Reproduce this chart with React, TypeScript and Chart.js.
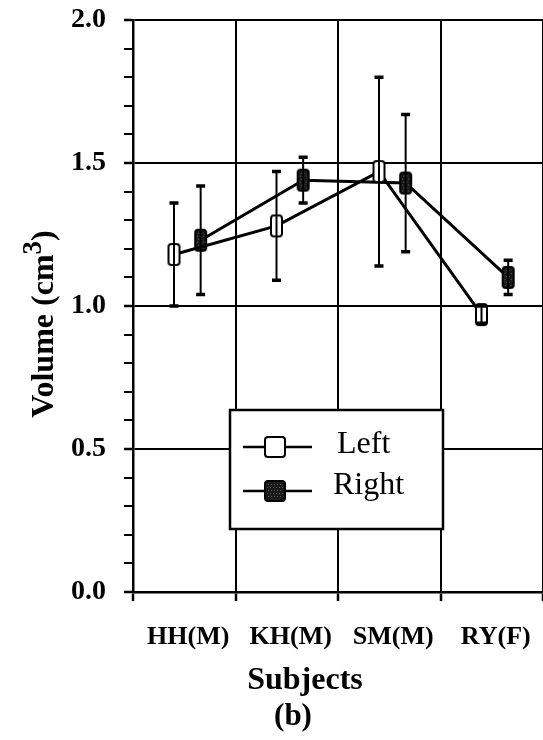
import { useEffect, useRef } from "react";
import { Chart, registerables } from "chart.js";

Chart.register(...registerables);

// Mean volume per subject with its error half-width
const subjects = ["HH(M)", "KH(M)", "SM(M)", "RY(F)"];
const leftMean = [1.18, 1.28, 1.47, 0.97];
const leftErr = [0.18, 0.19, 0.33, 0.03];
const rightMean = [1.23, 1.44, 1.43, 1.1];
const rightErr = [0.19, 0.08, 0.24, 0.06];
const seriesNames = ["Left", "Right"];

const SERIF = '"Liberation Serif", "Times New Roman", Times, serif';
const LEFT_DODGE = 0.4;
const RIGHT_DODGE = 0.66;

const isMajorY = (v: number) => Math.abs(v * 2 - Math.round(v * 2)) < 1e-6;
const isInt = (v: number) => Math.abs(v - Math.round(v)) < 1e-6;
const isHalf = (v: number) => Math.abs(v - Math.floor(v) - 0.5) < 1e-6;

function markerImage(w: number, h: number, fill: string, dotted: boolean) {
  const c = document.createElement("canvas");
  c.width = w + 4;
  c.height = h + 4;
  const g = c.getContext("2d")!;
  g.lineWidth = 2;
  g.beginPath();
  g.roundRect(2, 2, w, h, 3);
  g.fillStyle = fill;
  g.fill();
  if (dotted) {
    g.fillStyle = "#5a5a5a";
    for (let yy = 5; yy < h; yy += 3) {
      for (let xx = 4 + (yy % 2); xx < w; xx += 3) g.fillRect(xx, yy, 1, 1);
    }
  }
  g.strokeStyle = "#000";
  g.stroke();
  return c;
}

const errorBars = {
  id: "errorBars",
  afterDatasetsDraw(chart: any) {
    const { ctx, scales } = chart;
    const xs = scales.x;
    const ys = scales.y;
    ctx.save();
    ctx.strokeStyle = "#000";
    chart.data.datasets.forEach((ds: any) => {
      ds.data.forEach((p: any) => {
        const px = xs.getPixelForValue(p.x);
        const top = ys.getPixelForValue(p.y + p.err);
        const bot = ys.getPixelForValue(p.y - p.err);
        ctx.lineWidth = 2;
        ctx.beginPath();
        ctx.moveTo(px, top);
        ctx.lineTo(px, bot);
        ctx.stroke();
        ctx.lineWidth = 3.5;
        ctx.beginPath();
        ctx.moveTo(px - 4.5, top);
        ctx.lineTo(px + 4.5, top);
        ctx.moveTo(px - 4.5, bot);
        ctx.lineTo(px + 4.5, bot);
        ctx.stroke();
      });
    });
    ctx.restore();
  },
};

const decorations = {
  id: "decorations",
  afterDraw(chart: any) {
    const { ctx, chartArea } = chart;
    const L = chartArea.left;
    const T = chartArea.top;
    ctx.save();

    // y-axis title with superscript
    ctx.translate(53, 324);
    ctx.rotate(-Math.PI / 2);
    ctx.fillStyle = "#000";
    ctx.textBaseline = "alphabetic";
    ctx.textAlign = "left";
    const mainFont = `bold 32px ${SERIF}`;
    const supFont = `bold 27px ${SERIF}`;
    ctx.font = mainFont;
    const a = "Volume (cm";
    const c = ")";
    const wa = ctx.measureText(a).width;
    const wc = ctx.measureText(c).width;
    ctx.font = supFont;
    const wb = ctx.measureText("3").width;
    const x0 = -(wa + wb + wc) / 2;
    ctx.font = mainFont;
    ctx.fillText(a, x0, 0);
    ctx.font = supFont;
    ctx.fillText("3", x0 + wa, -12);
    ctx.font = mainFont;
    ctx.fillText(c, x0 + wa + wb, 0);
    ctx.setTransform(1, 0, 0, 1, 0, 0);

    // x-axis title and panel tag
    ctx.textAlign = "center";
    ctx.textBaseline = "alphabetic";
    ctx.font = `bold 32px ${SERIF}`;
    ctx.fillText("Subjects", 305, 689);
    ctx.font = `bold 31px ${SERIF}`;
    ctx.fillText("(b)", 293, 725);

    // legend box
    const bx = L + 97;
    const by = T + 390;
    const bw = 213;
    const bh = 119;
    ctx.fillStyle = "#fff";
    ctx.fillRect(bx, by, bw, bh);
    ctx.strokeStyle = "#000";
    ctx.lineWidth = 2.5;
    ctx.strokeRect(bx, by, bw, bh);

    const rows = [
      { y: by + 37, img: markerImage(20, 20, "#fff", false) },
      { y: by + 81, img: markerImage(20, 20, "#1a1a1a", true) },
    ];
    rows.forEach((r, i) => {
      ctx.lineWidth = 2.5;
      ctx.beginPath();
      ctx.moveTo(bx + 13, r.y);
      ctx.lineTo(bx + 82, r.y);
      ctx.stroke();
      ctx.drawImage(r.img, bx + 45 - r.img.width / 2, r.y - r.img.height / 2);
      ctx.fillStyle = "#000";
      ctx.textAlign = "left";
      ctx.textBaseline = "alphabetic";
      ctx.font = `32px ${SERIF}`;
      ctx.fillText(seriesNames[i], bx + (i === 0 ? 107 : 103), r.y + (i === 0 ? 6 : 3));
    });
    ctx.restore();
  },
};

export default function App() {
  const ref = useRef<HTMLCanvasElement | null>(null);

  useEffect(() => {
    if (!ref.current) return;
    const leftPts = subjects.map((_, i) => ({ x: i + LEFT_DODGE, y: leftMean[i], err: leftErr[i] }));
    const rightPts = subjects.map((_, i) => ({ x: i + RIGHT_DODGE, y: rightMean[i], err: rightErr[i] }));

    const chart = new Chart(ref.current, {
      type: "line",
      data: {
        datasets: [
          {
            label: seriesNames[0],
            data: leftPts,
            borderColor: "#000",
            borderWidth: 3,
            pointStyle: markerImage(11, 21, "#fff", false) as any,
          },
          {
            label: seriesNames[1],
            data: rightPts,
            borderColor: "#000",
            borderWidth: 3,
            pointStyle: markerImage(11, 21, "#1a1a1a", true) as any,
          },
        ],
      },
      options: {
        animation: false,
        responsive: true,
        maintainAspectRatio: false,
        layout: { autoPadding: false, padding: { top: 20, right: 0, bottom: 0, left: 0 } },
        plugins: { legend: { display: false }, tooltip: { enabled: false } },
        scales: {
          x: {
            type: "linear",
            min: 0,
            max: 4,
            afterFit(s: any) {
              s.height = 148;
              s.paddingLeft = 0;
              s.paddingRight = 0;
            },
            border: { color: "#000", width: 2.5 },
            grid: {
              color: (c: any) => (isInt(c.tick.value) ? "#000" : "rgba(0,0,0,0)"),
              tickColor: (c: any) => (isInt(c.tick.value) ? "#000" : "rgba(0,0,0,0)"),
              lineWidth: 2,
              tickWidth: 2.5,
              tickLength: 9,
            },
            ticks: {
              stepSize: 0.5,
              autoSkip: false,
              maxRotation: 0,
              padding: 21,
              labelOffset: 4,
              color: "#000",
              font: { family: SERIF, size: 26, weight: "bold" },
              callback: (v: any) => (isHalf(Number(v)) ? subjects[Math.floor(Number(v))] : ""),
            },
          },
          y: {
            min: 0,
            max: 2,
            afterFit(s: any) {
              s.width = 133;
              s.paddingTop = 0;
              s.paddingBottom = 0;
            },
            border: { color: "#000", width: 2.5 },
            grid: {
              color: (c: any) => (isMajorY(c.tick.value) ? "#000" : "rgba(0,0,0,0)"),
              tickColor: "#000",
              lineWidth: 2,
              tickWidth: (c: any) => (isMajorY(c.tick.value) ? 2.5 : 2),
              tickLength: 9,
            },
            ticks: {
              stepSize: 0.1,
              autoSkip: false,
              padding: 18,
              color: "#000",
              font: { family: SERIF, size: 28, weight: "bold" },
              callback: (v: any) => (isMajorY(Number(v)) ? Number(v).toFixed(1) : ""),
            },
          },
        },
      },
      plugins: [errorBars, decorations],
    });
    return () => chart.destroy();
  }, []);

  return (
    <div style={{ position: "fixed", left: 0, top: 0, width: 543, height: 740, background: "#fff" }}>
      <canvas ref={ref} />
    </div>
  );
}
